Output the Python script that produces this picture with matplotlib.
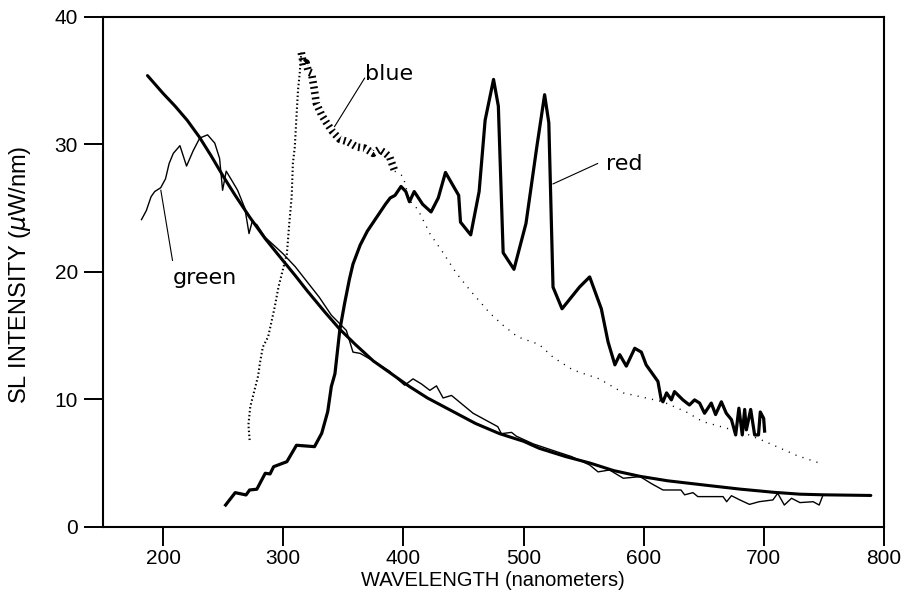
import numpy as np
import matplotlib.pyplot as plt

# smooth fitted curve
fit_x = [187, 200, 210, 220, 230, 240, 250, 260, 272, 285, 297, 310, 320, 335, 347, 360, 375,
         390, 405, 420, 444, 460, 480, 500, 513, 535, 555, 575, 597, 620, 652, 680, 708, 730,
         750, 789]
fit_y = [35.4, 34.0, 33.0, 31.9, 30.6, 29.1, 27.5, 26.0, 24.3, 22.6, 21.2, 19.7, 18.5, 16.8,
         15.5, 14.3, 13.0, 12.0, 11.0, 10.1, 8.9, 8.1, 7.3, 6.7, 6.15, 5.5, 5.0, 4.4, 3.95, 3.6,
         3.25, 2.95, 2.7, 2.55, 2.5, 2.45]

# green emission (thin line)
green_x = [182, 186, 190, 193, 198, 202, 205, 208.5, 214, 219.5, 225, 230.5, 237, 243, 247,
           249.5, 252.5, 257, 262, 268, 271.5, 274, 278, 285, 292, 300, 310, 320, 330, 340,
           352.5, 358, 364, 375, 388.5, 395, 401, 408, 415, 422, 427.5, 433, 440, 458, 478.5,
           481.5, 490, 494, 508, 527, 540, 555, 562, 571.5, 583, 597, 606, 616, 631, 634, 641,
           645, 666, 669, 673, 680, 688, 696, 707.5, 711.5, 717, 723, 730, 741, 746, 749]
green_y = [24.1, 24.8, 25.9, 26.3, 26.6, 27.3, 28.5, 29.3, 29.9, 28.3, 29.5, 30.5, 30.75, 30.1,
           28.9, 26.4, 27.9, 27.2, 26.4, 25.0, 23.0, 23.9, 23.7, 22.7, 22.1, 21.4, 20.4, 19.2,
           18.0, 16.6, 15.4, 13.7, 13.6, 13.0, 12.2, 11.6, 11.1, 11.6, 11.2, 10.7, 11.05, 10.1,
           10.3, 8.9, 7.85, 7.3, 7.4, 7.1, 6.5, 5.9, 5.5, 4.84, 4.3, 4.45, 3.8, 3.93, 3.4, 2.88,
           2.88, 2.5, 2.67, 2.36, 2.36, 1.96, 2.43, 2.1, 1.75, 1.96, 2.1, 2.62, 1.7, 2.23, 1.89,
           1.96, 1.7, 2.43]

# blue emission (dotted points)
blue_x = [272, 271, 272.5, 276, 279, 280.5, 283, 287.4, 290, 293, 296, 300, 303, 305, 307,
          308, 309.6, 311, 312.3, 313.7, 315, 317, 319, 321, 323.5, 325.5, 327.6, 332, 336,
          341, 347, 354, 361, 368, 374.7, 380, 385, 388.6, 392.8, 399.7, 405, 412, 422, 433,
          444, 455, 472, 483, 495, 513, 524.5, 541, 563, 583, 602, 616, 635.5, 649, 670, 685,
          700.6, 727, 746]
blue_y = [6.8, 8.0, 9.4, 10.7, 11.8, 12.8, 14.1, 14.9, 16.0, 17.3, 18.8, 20.3, 21.4, 23.8,
          25.9, 28.5, 29.8, 32.2, 34.3, 35.6, 37.2, 36.2, 36.4, 35.7, 35.6, 34.5, 33.2, 32.3,
          31.7, 31.0, 30.4, 30.2, 29.8, 29.7, 29.3, 29.6, 29.3, 29.0, 27.9, 27.5, 25.6, 24.9,
          23.0, 21.5, 19.9, 18.6, 16.75, 15.8, 14.9, 14.3, 13.3, 12.3, 11.6, 10.5, 10.1, 9.8,
          9.0, 8.25, 7.7, 7.3, 6.7, 5.6, 5.0]

# red emission (thick line)
red_x = [252, 260, 269, 272, 278, 285, 289, 292, 303, 311, 326, 332, 337, 340, 343, 347, 351,
         355, 358, 364, 370, 375, 380, 385, 389, 393, 398, 402, 405, 409, 416, 423, 429, 435,
         446, 447.5, 456, 463, 468, 475, 479, 483, 492, 502, 511, 517.5, 521, 524.5, 532,
         546.5, 555, 564.7, 570.3, 576, 580, 585.5, 592.5, 598, 602, 611.8, 614.6, 616, 619,
         623, 625.6, 632.6, 638, 642.3, 646.5, 650.6, 656.2, 659.8, 664.6, 668.7, 673, 676.5,
         679.2, 682, 684, 685.4, 689, 692.3, 695.5, 697, 699.8, 700.6]
red_y = [1.7, 2.67, 2.49, 2.88, 2.94, 4.19, 4.14, 4.71, 5.1, 6.39, 6.28, 7.33, 9.03, 11.0,
         12.0, 15.4, 17.5, 19.4, 20.6, 22.1, 23.2, 23.9, 24.6, 25.3, 25.8, 26.0, 26.7, 26.3,
         25.5, 26.3, 25.3, 24.7, 25.8, 27.8, 26.0, 23.9, 22.9, 26.3, 31.9, 35.1, 33.0, 21.5,
         20.2, 23.8, 29.8, 33.9, 31.7, 18.8, 17.1, 18.8, 19.6, 17.1, 14.5, 12.7, 13.5, 12.6,
         14.0, 13.7, 12.7, 11.4, 9.95, 9.8, 10.5, 9.95, 10.6, 9.95, 9.55, 9.95, 9.7, 8.9, 9.7,
         8.8, 9.8, 8.9, 8.4, 7.2, 9.3, 7.2, 9.2, 7.6, 9.2, 7.2, 7.2, 9.0, 8.5, 7.5]

x_ticks = [200, 300, 400, 500, 600, 700, 800]
y_ticks = [0, 10, 20, 30, 40]

plt.rcParams['font.family'] = ['Liberation Sans', 'DejaVu Sans']

fig = plt.figure(figsize=(9.07, 6.0), dpi=100)
ax = fig.add_axes([0.1136, 0.1222, 0.8611, 0.8495])

ax.plot(fit_x, fit_y, color='black', lw=2.2, solid_capstyle='round')
ax.plot(green_x, green_y, color='black', lw=1.0)
ax.plot(red_x, red_y, color='black', lw=2.3, solid_joinstyle='round')

bx = np.array(blue_x)
by = np.array(blue_y)
rise = np.arange(len(bx)) <= 20
band = (np.arange(len(bx)) >= 20) & (bx <= 393)
tail = bx >= 392.8
ax.plot(bx[rise], by[rise], color='black', lw=1.5, ls=(0, (0.7, 1.2)))
ax.plot(bx[band], by[band], color='black', lw=5.5, ls=(0, (0.25, 0.45)))
ax.plot(bx[tail], by[tail], color='black', lw=1.0, ls=(0, (0.8, 4.5)))

# labels with leader lines
lab_font = dict(family='DejaVu Sans', fontsize=16, color='black')
ax.text(387.8, 35.5, 'blue', ha='center', va='center', **lab_font)
ax.plot([367.7, 342.7], [35.2, 31.4], color='black', lw=0.8)
ax.text(234.5, 19.5, 'green', ha='center', va='center', **lab_font)
ax.plot([198.1, 207.8], [26.4, 20.9], color='black', lw=0.8)
ax.text(584.0, 28.5, 'red', ha='center', va='center', **lab_font)
ax.plot([524.5, 561.6], [26.9, 28.5], color='black', lw=0.8)

ax.set_xlim(150, 800)
ax.set_ylim(0, 40)
ax.set_xticks(x_ticks)
ax.set_yticks(y_ticks)
ax.tick_params(axis='both', direction='out', length=14, width=1.4, labelsize=15,
               colors='black')
ax.tick_params(axis='x', pad=2)
ax.tick_params(axis='y', pad=4)
for s in ax.spines.values():
    s.set_linewidth(1.5)

ax.set_xlabel('WAVELENGTH (nanometers)', fontsize=14.5)
ax.set_ylabel(r'SL INTENSITY ($\mu$W/nm)', fontsize=17)
ax.xaxis.set_label_coords(0.499, -0.087)
ax.yaxis.set_label_coords(-0.0896, 0.494)

fig.savefig('out.png', dpi=100)
